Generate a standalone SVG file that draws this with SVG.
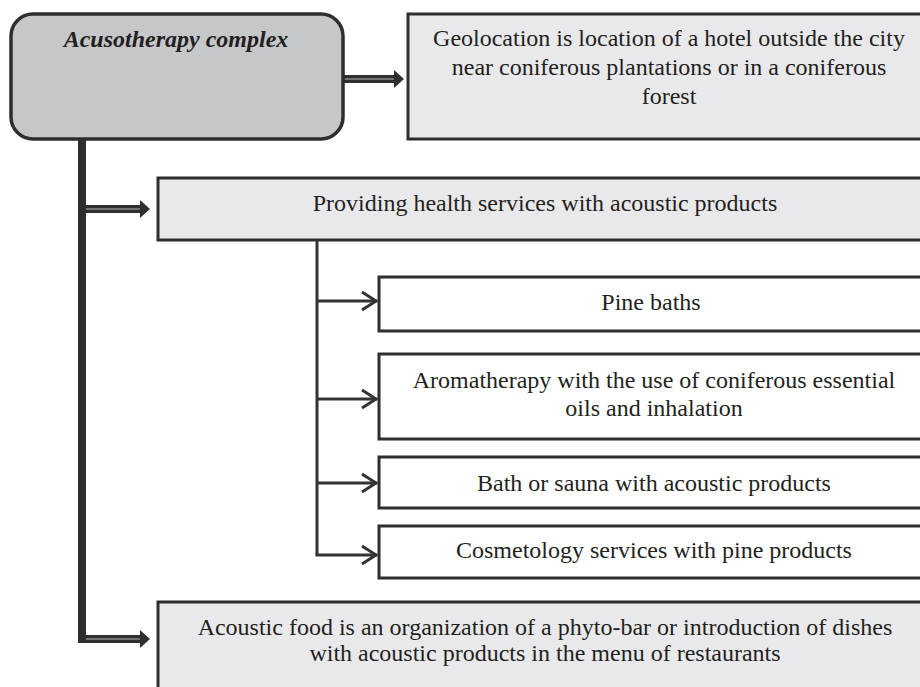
<svg xmlns="http://www.w3.org/2000/svg" width="920" height="687" viewBox="0 0 920 687">
<style>
.t{font-family:"Liberation Serif","Times New Roman",serif;font-size:24px;fill:#231f20;text-anchor:middle}
.gray{fill:#e9e9eb;stroke:#2e2e2e;stroke-width:3}
.white{fill:#ffffff;stroke:#2e2e2e;stroke-width:3}
.thick{fill:none;stroke:#2e2e2e;stroke-width:8}
.inner{fill:none;stroke:#8a8a8a;stroke-width:1.5}
.thin{fill:none;stroke:#333;stroke-width:3}
.head{fill:#2e2e2e}
.chev{fill:none;stroke:#333;stroke-width:3;stroke-linejoin:miter}
</style>
<rect width="920" height="687" fill="#ffffff"/>
<g id="main">
<rect x="11" y="14" width="332" height="125" rx="22" ry="22" fill="#c6c7c9" stroke="#2e2e2e" stroke-width="3.5"/>
<text class="t" x="176" y="47" font-size="24.5" font-weight="bold" font-style="italic">Acusotherapy complex</text>
</g>
<g id="geolocation">
<rect class="gray" x="408" y="14" width="530" height="125"/>
<text class="t" x="669" y="46">Geolocation is location of a hotel outside the city</text>
<text class="t" x="669" y="75">near coniferous plantations or in a coniferous</text>
<text class="t" x="669" y="104">forest</text>
</g>
<g id="providing">
<rect class="gray" x="158" y="178" width="780" height="62"/>
<text class="t" x="545" y="211">Providing health services with acoustic products</text>
</g>
<g id="pine">
<rect class="white" x="379" y="277" width="560" height="54"/>
<text class="t" x="651" y="310">Pine baths</text>
</g>
<g id="aroma">
<rect class="white" x="379" y="354" width="560" height="85"/>
<text class="t" x="654" y="388">Aromatherapy with the use of coniferous essential</text>
<text class="t" x="654" y="416">oils and inhalation</text>
</g>
<g id="bath">
<rect class="white" x="379" y="457" width="560" height="51"/>
<text class="t" x="654" y="491">Bath or sauna with acoustic products</text>
</g>
<g id="cosmetology">
<rect class="white" x="379" y="526" width="560" height="52"/>
<text class="t" x="654" y="558">Cosmetology services with pine products</text>
</g>
<g id="food">
<rect class="gray" x="158" y="602" width="780" height="100"/>
<text class="t" x="545" y="635">Acoustic food is an organization of a phyto-bar or introduction of dishes</text>
<text class="t" x="545" y="661">with acoustic products in the menu of restaurants</text>
</g>
<g id="connectors">
<path class="thick" d="M343 79 H396"/>
<path class="inner" d="M345 79 H396"/>
<polygon class="head" points="394,70 404,79 394,88"/>
<path class="thick" d="M82 139 V643"/>
<path class="thick" d="M82 209 H142"/>
<path class="inner" d="M86 209 H142"/>
<polygon class="head" points="140,200 150,209 140,218"/>
<path class="thick" d="M78 639 H142"/>
<path class="inner" d="M86 639 H142"/>
<polygon class="head" points="140,630 150,639 140,648"/>
<path class="thin" d="M317 240 V555"/>
<path class="thin" d="M317 301 H377"/>
<path class="thin" d="M317 399 H377"/>
<path class="thin" d="M317 483 H377"/>
<path class="thin" d="M315.5 555 H377"/>
<polyline class="chev" points="362,292 376,301 362,310"/>
<polyline class="chev" points="362,390 376,399 362,408"/>
<polyline class="chev" points="362,474 376,483 362,492"/>
<polyline class="chev" points="362,546 376,555 362,564"/>
</g>
</svg>
